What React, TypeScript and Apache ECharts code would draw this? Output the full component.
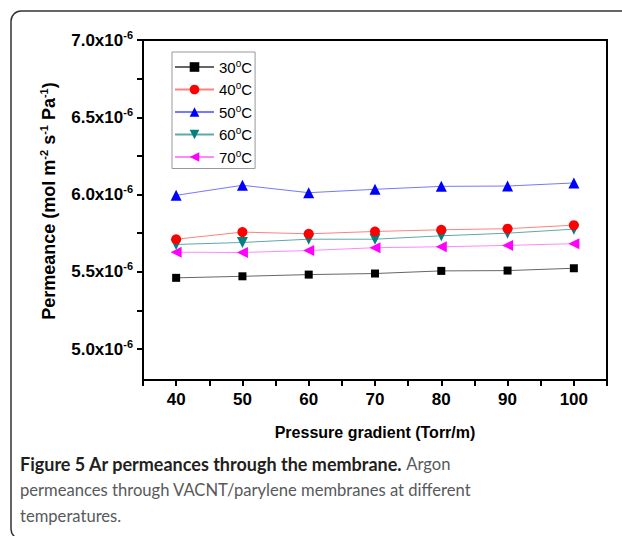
import React, { useEffect, useRef } from "react";
import * as echarts from "echarts";

// Pressure gradient (Torr/m)
const PRESSURE = [40, 50, 60, 70, 80, 90, 100];
// Permeance values in units of 1e-6 mol m^-2 s^-1 Pa^-1
const PERM_30 = [5.461, 5.471, 5.482, 5.489, 5.506, 5.508, 5.523];
const PERM_40 = [5.711, 5.757, 5.746, 5.761, 5.772, 5.779, 5.802];
const PERM_50 = [5.995, 6.06, 6.012, 6.034, 6.053, 6.055, 6.075];
const PERM_60 = [5.677, 5.69, 5.711, 5.711, 5.733, 5.75, 5.776];
const PERM_70 = [5.627, 5.625, 5.638, 5.656, 5.662, 5.671, 5.682];

const TEMPS = ["30", "40", "50", "60", "70"];
const X_TICKS = [35, 40, 45, 50, 55, 60, 65, 70, 75, 80, 85, 90, 95, 100, 105];
const X_LABELS = [40, 50, 60, 70, 80, 90, 100];
const Y_TICKS = [5.0, 5.25, 5.5, 5.75, 6.0, 6.25, 6.5, 6.75, 7.0];
const Y_LABELS = [5.0, 5.5, 6.0, 6.5, 7.0];

const AX_FONT = "'Liberation Sans', Arial, sans-serif";
const CAP_FONT = "Lato, 'Open Sans', sans-serif";

export default function App() {
  const ref = useRef<HTMLDivElement>(null);
  useEffect(() => {
    document.body.style.margin = "0";
    const chart = echarts.init(ref.current!, null, { renderer: "svg" });
    const seriesData = [PERM_30, PERM_40, PERM_50, PERM_60, PERM_70];
    const markerColors = ["#000000", "#ff0000", "#0000ff", "#008080", "#ff00ff"];
    const lineColors = ["#666666", "#ff8080", "#7777ff", "#5fa9a9", "#ff88ff"];
    const symbols = ["rect", "circle", "triangle", "triangle", "triangle"];
    const rotates = [0, 0, 0, 180, 90];
    const sizes = [8, 10, 11, 11, 11];
    const series = TEMPS.map((t, i) => ({
      type: "line",
      name: t + "°C",
      data: PRESSURE.map((x, j) => [x, seriesData[i][j]]),
      symbol: symbols[i],
      symbolRotate: rotates[i],
      symbolSize: sizes[i],
      itemStyle: { color: markerColors[i] },
      lineStyle: { color: lineColors[i], width: 1 },
      z: 10 - i,
    }));
    const option: any = {
      animation: false,
      grid: {
        left: 143,
        top: 40,
        width: 464,
        height: 340,
        show: true,
        borderColor: "#000",
        borderWidth: 2,
      },
      xAxis: {
        type: "value",
        min: 35,
        max: 105,
        axisLine: { lineStyle: { color: "#000", width: 2 } },
        axisTick: { customValues: X_TICKS, length: 6, lineStyle: { color: "#000", width: 2 } },
        axisLabel: {
          customValues: X_LABELS,
          margin: 11,
          fontSize: 17,
          fontWeight: "bold",
          color: "#000",
          fontFamily: AX_FONT,
        },
        splitLine: { show: false },
        name: "Pressure gradient (Torr/m)",
        nameLocation: "middle",
        nameGap: 44,
        nameTextStyle: { fontSize: 16, fontWeight: "bold", color: "#000", fontFamily: AX_FONT },
      },
      yAxis: {
        type: "value",
        min: 4.8,
        max: 7.0,
        axisLine: { show: true, lineStyle: { color: "#000", width: 2 } },
        axisTick: { show: true, customValues: Y_TICKS, length: 6, lineStyle: { color: "#000", width: 2 } },
        axisLabel: {
          customValues: Y_LABELS,
          margin: 10,
          formatter: (v: number) => `{b|${v.toFixed(1)}x10}{s|-6}`,
          rich: {
            b: { fontSize: 17, fontWeight: "bold", color: "#000", fontFamily: AX_FONT, lineHeight: 22 },
            s: { fontSize: 11, fontWeight: "bold", color: "#000", fontFamily: AX_FONT, verticalAlign: "top" },
          },
        },
        splitLine: { show: false },
        name: "{b|Permeance (mol m}{s|-2}{b| s}{s|-1}{b| Pa}{s|-1}{b|)}",
        nameLocation: "middle",
        nameGap: 83,
        nameRotate: 90,
        nameTextStyle: {
          padding: [0, 0, 0, 18],
          rich: {
            b: { fontSize: 18, fontWeight: "bold", color: "#000", fontFamily: AX_FONT, lineHeight: 22 },
            s: { fontSize: 11, fontWeight: "bold", color: "#000", fontFamily: AX_FONT, verticalAlign: "top" },
          },
        },
      },
      legend: {
        orient: "vertical",
        left: 172,
        top: 52,
        itemWidth: 39,
        itemHeight: 12,
        itemGap: 6,
        padding: [6, 3, 4, 2],
        borderColor: "#999",
        borderWidth: 1,
        formatter: (name: string) => `{n|${name.replace("°C", "")}}{s|o}{n|C}`,
        textStyle: {
          rich: {
            n: { fontSize: 15, color: "#000", fontFamily: AX_FONT, lineHeight: 18 },
            s: { fontSize: 10, color: "#000", fontFamily: AX_FONT, verticalAlign: "top" },
          },
        },
      },
      graphic: [
        {
          type: "rect",
          silent: true,
          z: -10,
          shape: { x: 11, y: 11, width: 700, height: 528, r: 10 },
          style: { fill: "none", stroke: "#333", lineWidth: 1.5 },
        },
        {
          type: "text",
          left: 20,
          top: 455,
          style: {
            text: "{b|Figure 5 Ar permeances through the membrane.}{r| Argon}",
            rich: {
              b: { fontSize: 18, fontWeight: "bold", fill: "#231f20", fontFamily: CAP_FONT },
              r: { fontSize: 16.6, fill: "#58595b", fontFamily: CAP_FONT },
            },
          },
        },
        {
          type: "text",
          left: 20,
          top: 481,
          style: {
            text: "permeances through VACNT/parylene membranes at different",
            fontSize: 16.6,
            fill: "#58595b",
            fontFamily: CAP_FONT,
          },
        },
        {
          type: "text",
          left: 20,
          top: 507,
          style: { text: "temperatures.", fontSize: 16.6, fill: "#58595b", fontFamily: CAP_FONT },
        },
      ],
      series,
    };
    chart.setOption(option);
    return () => chart.dispose();
  }, []);
  return <div ref={ref} style={{ width: 622, height: 536 }} />;
}
